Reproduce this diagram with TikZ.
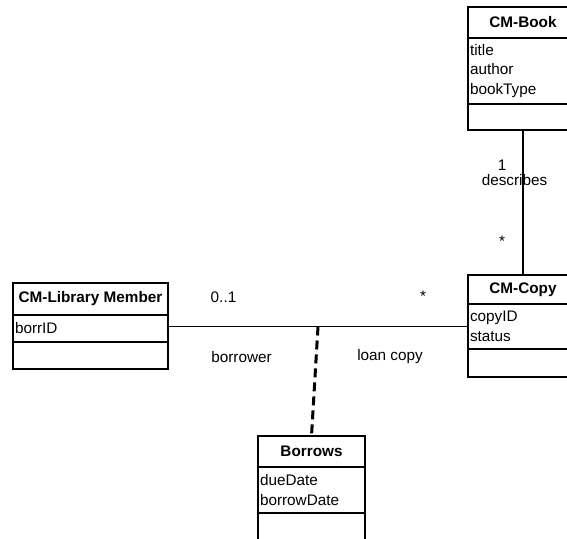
\documentclass[tikz,border=0pt]{standalone}
\usepackage{fontspec}
\setmainfont{Liberation Sans}
\usetikzlibrary{positioning,calc}

\begin{document}
\begin{tikzpicture}[x=1pt,y=-1pt,font=\fontsize{15.3}{19.5}\selectfont,line width=1.4pt]
      \tikzset{compart/.style={draw, inner sep=2pt, outer sep=0pt, anchor=north},
               classname/.style={compart, font=\fontsize{15.3}{19.5}\selectfont\bfseries},
               attrs/.style={compart, align=left},
               linkclass/.style={line width=3pt, dash pattern=on 9pt off 5pt},
               tag/.style={inner sep=0pt}}
      \useasboundingbox (0,0) rectangle (567,538);
      \clip (0,0) rectangle (567,538);
%% Classes
      \node[classname, minimum width=110pt, minimum height=31pt] (book) at (523,7) {CM-Book};
      \node[attrs, text width=106pt, minimum height=66pt, below=0pt of book] (book-attrs) {title\\author\\bookType};
      \node[compart, minimum width=110pt, minimum height=26pt, below=0pt of book-attrs] (book-ops) {};

      \node[classname, minimum width=110pt, minimum height=29pt] (copy) at (523,275) {CM-Copy};
      \node[attrs, text width=106pt, minimum height=45pt, below=0pt of copy] (copy-attrs) {copyID\\status};
      \node[compart, minimum width=110pt, minimum height=28pt, below=0pt of copy-attrs] (copy-ops) {};

      \node[classname, minimum width=155pt, minimum height=32pt] (member) at (90.5,283) {CM-Library Member};
      \node[attrs, text width=151pt, minimum height=27pt, below=0pt of member] (member-attrs) {borrID};
      \node[compart, minimum width=155pt, minimum height=27pt, below=0pt of member-attrs] (member-ops) {};

      \node[classname, minimum width=107pt, minimum height=31pt] (borrows) at (311.5,436) {Borrows};
      \node[attrs, text width=103pt, minimum height=46pt, below=0pt of borrows] (borrows-attrs) {dueDate\\borrowDate};
      \node[compart, minimum width=107pt, minimum height=28pt, below=0pt of borrows-attrs] (borrows-ops) {};
%Associations
      \draw (book-ops) -- (copy);
      \draw (copy-attrs.west) -- (copy-attrs.west -| member-attrs.east);
      \coordinate (joint) at ($(copy-attrs.west)!0.5!(copy-attrs.west -| member-attrs.east)$);
      \draw[linkclass] (joint) -- (borrows.north);
%Labels
      \node[tag] (book-one) at (502,165) {1};
      \node[tag] (describes) at (514.5,180) {describes};
      \node[tag] (book-many) at (502,241) {*};
      \node[tag] (member-mult) at (223.5,297) {0..1};
      \node[tag] (copy-many) at (423,296) {*};
      \node[tag] (borrower) at (241.5,357) {borrower};
      \node[tag] (loan-copy) at (390,357) {loan copy};
\end{tikzpicture}
\end{document}
